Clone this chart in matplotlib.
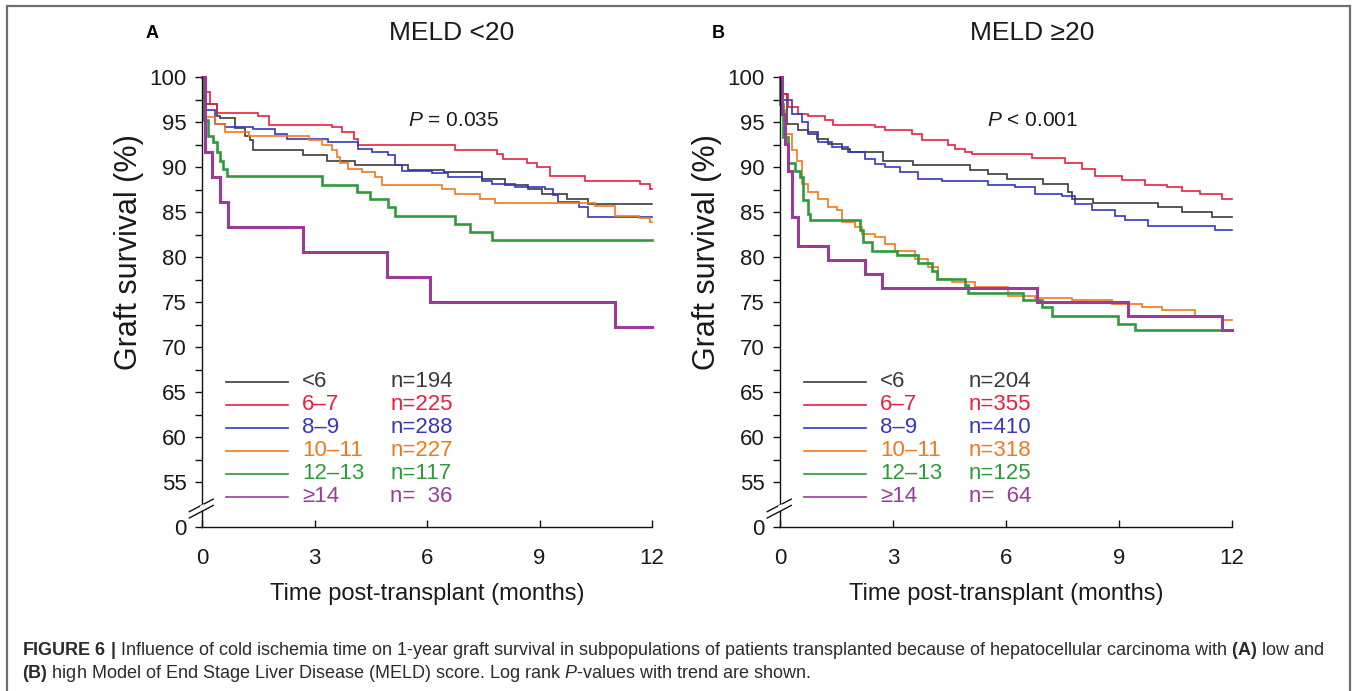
import matplotlib
matplotlib.use('Agg')
import matplotlib.pyplot as plt
from matplotlib.lines import Line2D
import matplotlib.patches as patches

plt.rcParams['font.family'] = ['Liberation Sans', 'DejaVu Sans']
plt.rcParams['mathtext.fontset'] = 'custom'
plt.rcParams['mathtext.rm'] = 'Liberation Sans'
plt.rcParams['mathtext.it'] = 'Liberation Sans:italic'
plt.rcParams['mathtext.bf'] = 'Liberation Sans:bold'

W, H, DPI = 1357, 691, 100

# ---------------- data ----------------
groups = ['<6', '6–7', '8–9', '10–11', '12–13', '≥14']
n_low = [194, 225, 288, 227, 117, 36]
n_high = [204, 355, 410, 318, 125, 64]
colors = ['#3b3b3b', '#e8213f', '#3636c2', '#f2781e', '#2f9a3b', '#9a3b9c']
widths = [1.2, 1.2, 1.2, 1.2, 1.9, 2.2]

# Panel A: MELD < 20  (time in months, graft survival %)
low_t_lt6 = [0, 0.06, 0.39, 0.48, 0.88, 1.15, 1.28, 1.37, 2.70, 3.32, 4.08, 5.50, 6.44, 7.46, 8.08, 8.70, 9.06, 9.72, 10.30, 12]
low_s_lt6 = [100, 97.0, 95.7, 95.4, 94.3, 93.5, 93.0, 91.9, 91.3, 90.7, 90.2, 89.7, 89.4, 88.7, 88.0, 87.6, 87.0, 86.5, 85.9, 85.9]
low_t_67 = [0, 0.06, 0.21, 0.39, 1.50, 1.79, 3.46, 3.72, 4.04, 4.17, 6.75, 7.86, 8.04, 8.66, 8.92, 9.28, 10.21, 11.68, 11.95, 12]
low_s_67 = [100, 98.3, 97.0, 96.0, 95.7, 94.7, 94.4, 93.9, 93.1, 92.4, 91.9, 91.5, 90.9, 90.4, 90.0, 89.0, 88.5, 88.1, 87.6, 87.6]
low_t_89 = [0, 0.08, 0.35, 0.61, 1.37, 1.95, 2.26, 3.37, 4.17, 4.52, 4.97, 5.15, 5.32, 6.12, 6.57, 7.46, 7.72, 8.35, 9.15, 9.37, 9.50, 10.04, 10.30, 12]
low_s_89 = [100, 96.3, 94.8, 94.4, 94.2, 93.7, 93.1, 92.8, 92.0, 91.7, 91.3, 90.2, 89.6, 89.3, 88.9, 88.5, 88.1, 87.8, 87.6, 86.9, 86.1, 85.6, 84.4, 84.4]
low_t_1011 = [0, 0.04, 0.35, 0.61, 1.24, 2.84, 3.19, 3.46, 3.59, 3.68, 3.90, 4.26, 4.61, 4.79, 6.39, 6.75, 7.41, 7.81, 10.48, 11.01, 11.64, 11.95, 12]
low_s_1011 = [100, 95.6, 94.8, 93.9, 93.5, 93.0, 92.4, 91.9, 91.1, 90.4, 89.8, 89.4, 88.9, 88.0, 87.6, 87.0, 86.5, 86.0, 85.7, 84.6, 84.3, 83.9, 83.9]
low_t_1213 = [0, 0.02, 0.17, 0.30, 0.39, 0.48, 0.57, 0.66, 3.19, 4.12, 4.48, 4.97, 5.15, 6.75, 7.15, 7.72, 12]
low_s_1213 = [100, 95.2, 93.5, 92.8, 91.7, 90.7, 89.8, 89.0, 88.0, 87.2, 86.5, 85.6, 84.6, 83.7, 82.8, 81.9, 81.9]
low_t_14 = [0, 0.08, 0.26, 0.48, 0.70, 2.70, 4.92, 6.08, 11.01, 12]
low_s_14 = [100, 91.7, 88.9, 86.1, 83.3, 80.6, 77.8, 75.0, 72.2, 72.2]

# Panel B: MELD >= 20
high_t_lt6 = [0, 0.04, 0.18, 0.49, 0.75, 0.97, 1.28, 1.64, 1.86, 2.74, 3.54, 5.04, 5.53, 6.02, 6.99, 7.65, 7.74, 8.32, 10.04, 10.66, 11.46, 12]
high_s_lt6 = [100, 98.1, 94.8, 94.1, 93.7, 93.1, 92.6, 92.0, 91.7, 90.7, 90.2, 89.7, 89.2, 88.7, 88.1, 87.2, 86.5, 86.0, 85.6, 85.0, 84.4, 84.4]
high_t_67 = [0, 0.09, 0.22, 0.49, 0.75, 1.19, 1.42, 2.52, 2.79, 3.50, 3.76, 4.47, 4.65, 4.91, 5.09, 6.68, 7.57, 8.01, 8.36, 9.07, 9.69, 10.27, 10.66, 11.15, 11.73, 12]
high_s_67 = [100, 98.1, 96.7, 95.9, 95.7, 95.2, 94.7, 94.4, 94.1, 93.7, 93.0, 92.4, 92.0, 91.7, 91.4, 91.0, 90.4, 89.8, 89.0, 88.6, 88.0, 87.8, 87.3, 87.0, 86.5, 86.5]
high_t_89 = [0, 0.04, 0.31, 0.58, 0.75, 1.02, 1.37, 1.81, 2.26, 2.52, 2.79, 3.19, 3.67, 4.29, 5.53, 6.24, 6.77, 7.48, 7.83, 8.27, 8.89, 9.16, 9.78, 11.55, 12]
high_s_89 = [100, 97.4, 95.9, 95.0, 93.9, 92.8, 92.2, 91.7, 90.9, 90.3, 90.0, 89.4, 88.7, 88.4, 88.0, 87.8, 87.0, 86.8, 85.9, 85.2, 84.6, 84.1, 83.5, 83.0, 83.0]
high_t_1011 = [0, 0.04, 0.13, 0.31, 0.44, 0.58, 0.75, 1.02, 1.28, 1.50, 1.64, 1.99, 2.17, 2.52, 2.79, 3.05, 3.58, 3.94, 4.20, 4.56, 5.18, 6.06, 6.77, 7.74, 8.81, 9.60, 10.13, 11.02, 11.73, 12]
high_s_1011 = [100, 96.3, 93.7, 91.9, 90.7, 88.1, 87.2, 86.5, 85.6, 85.2, 83.9, 83.3, 82.6, 82.2, 81.5, 80.7, 79.8, 78.9, 77.6, 77.2, 76.7, 75.7, 75.5, 75.2, 74.8, 74.4, 74.1, 73.3, 73.0, 73.0]
high_t_1213 = [0, 0.01, 0.09, 0.22, 0.40, 0.53, 0.62, 0.75, 0.80, 2.12, 2.21, 2.43, 3.10, 3.67, 4.03, 4.16, 4.91, 5.00, 6.46, 6.95, 7.21, 8.98, 9.42, 12]
high_s_1213 = [100, 97.0, 93.3, 90.4, 89.6, 88.9, 86.3, 84.8, 84.1, 83.0, 81.7, 80.7, 80.2, 79.3, 78.5, 77.6, 76.9, 76.0, 75.2, 74.4, 73.4, 72.6, 71.9, 71.9]
high_t_14 = [0, 0.04, 0.13, 0.22, 0.31, 0.49, 1.28, 2.26, 2.70, 6.81, 9.25, 11.73, 12]
high_s_14 = [100, 95.9, 92.6, 89.6, 84.4, 81.25, 79.7, 78.1, 76.6, 75.0, 73.4, 71.9, 71.9]

low_curves = [(low_t_lt6, low_s_lt6), (low_t_67, low_s_67), (low_t_89, low_s_89),
              (low_t_1011, low_s_1011), (low_t_1213, low_s_1213), (low_t_14, low_s_14)]
high_curves = [(high_t_lt6, high_s_lt6), (high_t_67, high_s_67), (high_t_89, high_s_89),
               (high_t_1011, high_s_1011), (high_t_1213, high_s_1213), (high_t_14, high_s_14)]

x_ticks = [0, 3, 6, 9, 12]
y_ticks = [50, 55, 60, 65, 70, 75, 80, 85, 90, 95, 100]
y_ticklabels = ['0', '55', '60', '65', '70', '75', '80', '85', '90', '95', '100']
y_minor = [57.5, 62.5, 67.5, 72.5, 77.5, 82.5, 87.5, 92.5, 97.5]

titles = ['MELD <20', 'MELD ≥20']
panel_letters = ['A', 'B']
p_texts = ['$P$ = 0.035', '$P$ < 0.001']

caption1 = (r'$\mathbf{FIGURE\ 6\ |}$ Influence of cold ischemia time on 1-year graft survival in '
            r'subpopulations of patients transplanted because of hepatocellular carcinoma with '
            r'$\mathbf{(A)}$ low and')
caption2 = (r'$\mathbf{(B)}$ high Model of End Stage Liver Disease (MELD) score. '
            r'Log rank $P$-values with trend are shown.')

# ---------------- figure ----------------
fig = plt.figure(figsize=(W / DPI, H / DPI), dpi=DPI)
fig.patch.set_facecolor('white')


def px_box(x0, x1, ytop, ybot):
    return [x0 / W, 1 - ybot / H, (x1 - x0) / W, (ybot - ytop) / H]


ax_a = fig.add_axes(px_box(202, 652, 77, 527))
ax_b = fig.add_axes(px_box(780, 1232, 77, 527))

TXT = '#1a1a1a'

for i, (ax, curves, ns) in enumerate([(ax_a, low_curves, n_low), (ax_b, high_curves, n_high)]):
    for (t, s), c, lw in zip(curves, colors, widths):
        ax.step(t, s, where='post', color=c, lw=lw, clip_on=False, solid_joinstyle='miter')
    ax.set_xlim(0, 12)
    ax.set_ylim(50, 100)
    for sp in ['top', 'right']:
        ax.spines[sp].set_visible(False)
    for sp in ['left', 'bottom']:
        ax.spines[sp].set_linewidth(1.0)
        ax.spines[sp].set_color('#111111')
    ax.set_xticks(x_ticks)
    ax.set_yticks(y_ticks)
    ax.set_yticklabels(y_ticklabels)
    ax.set_yticks(y_minor, minor=True)
    ax.tick_params(axis='x', direction='in', length=5, width=1.0, pad=15,
                   labelsize=16, colors='#111111', labelcolor=TXT)
    ax.tick_params(axis='y', which='both', direction='out', length=5, width=1.0, pad=6,
                   labelsize=16, colors='#111111', labelcolor=TXT)
    ax.set_xlabel('Time post-transplant (months)', fontsize=17, color=TXT)
    ax.xaxis.set_label_coords(0.5, -0.124)
    ax.set_ylabel('Graft survival (%)', fontsize=22, color=TXT)
    ax.yaxis.set_label_coords(-0.128, 0.611)

    # axis break marks
    for yb in (51.7, 52.4):
        ax.plot([-0.34, 0.30], [yb - 0.7, yb + 0.7], color='#111111', lw=1.0, clip_on=False)
    ax.fill([-0.05, 0.05, 0.05, -0.05], [51.75, 51.95, 52.55, 52.35], color='white',
            clip_on=False, zorder=3, lw=0)

    # p-value
    ax.text(5.49, 95.2, p_texts[i], fontsize=15, color=TXT, ha='left', va='center')

    # legend (manual)
    y0, dy = 0.323, 0.0511
    for k, (g, c, n) in enumerate(zip(groups, colors, ns)):
        yy = y0 - k * dy
        ax.add_line(Line2D([0.053, 0.191], [yy, yy], transform=ax.transAxes, color=c, lw=1.2))
        ax.text(0.222, yy, g, transform=ax.transAxes, color=c, fontsize=16, va='center', ha='left')
        nt = 'n=' + ('  ' if n < 100 else '') + str(n)
        ax.text(0.418, yy, nt, transform=ax.transAxes, color=c, fontsize=16, va='center', ha='left')

# titles and panel letters
fig.text(452 / W, 1 - 33 / H, titles[0], fontsize=19, ha='center', va='center', color=TXT)
fig.text(1032 / W, 1 - 33 / H, titles[1], fontsize=19, ha='center', va='center', color=TXT)
fig.text(146 / W, 1 - 33 / H, panel_letters[0], fontsize=13, weight='bold', ha='left', va='center', color='black')
fig.text(712 / W, 1 - 33 / H, panel_letters[1], fontsize=13, weight='bold', ha='left', va='center', color='black')

# outer frame
fig.add_artist(patches.Rectangle((7 / W, -0.05), (1350 - 7) / W, 1.05 - 6 / H,
                                 transform=fig.transFigure, fill=False,
                                 edgecolor='#6e6e6e', lw=1.6))

# caption (size fitted to the reference line width)
cap_color = '#2b2b2b'
c1 = fig.text(22 / W, 1 - 655 / H, caption1, fontsize=10, ha='left', va='baseline', color=cap_color)
c2 = fig.text(22 / W, 1 - 678 / H, caption2, fontsize=10, ha='left', va='baseline', color=cap_color)
fig.canvas.draw()
r = fig.canvas.get_renderer()
wpx = c1.get_window_extent(renderer=r).width
size = 10 * (1307 / wpx)
c1.set_fontsize(size)
c2.set_fontsize(size)

fig.savefig('out.png', dpi=DPI, facecolor='white')
